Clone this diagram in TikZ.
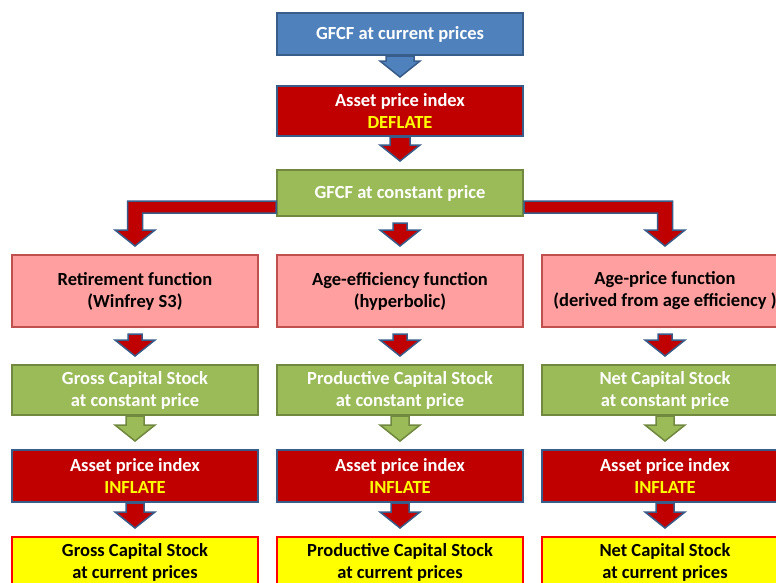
\documentclass[tikz,border=0pt]{standalone}
\usepackage{fontspec}
\setmainfont{Carlito}
\usetikzlibrary{calc}
\definecolor{bluef}{HTML}{4F81BD}
\definecolor{blued}{HTML}{385D8A}
\definecolor{redf}{HTML}{C00000}
\definecolor{greenf}{HTML}{9BBB59}
\definecolor{greend}{HTML}{71893F}
\definecolor{pinkf}{HTML}{FF9F9F}
\definecolor{pinkd}{HTML}{C0504D}
\definecolor{yell}{HTML}{FFFF00}
% block arrow: style, from, to, gap below 'from', half shaft width
\newcommand*{\blk}[5]{\draw[#1]let\p1=(#2.south),\p2=(#3.north)in
  (\x1-#5,\y1-#4)--(\x1-#5,\y2+24pt)--(\x1-20pt,\y2+24pt)--(\x1,\y2+8pt)
  --(\x1+20pt,\y2+24pt)--(\x1+#5,\y2+24pt)--(\x1+#5,\y1-#4)--cycle;}

\begin{document}
\begin{tikzpicture}[x=1pt, y=-1pt,
    box/.style={minimum width=246pt, align=center, inner sep=0pt, line width=2pt,
      font=\bfseries\fontsize{18.5}{22}\selectfont},
    bluebox/.style={box, draw=blued, fill=bluef, text=white},
    redbox/.style={box, draw=blued, fill=redf, text=white},
    greenbox/.style={box, draw=greend, fill=greenf, text=white},
    pinkbox/.style={box, draw=pinkd, fill=pinkf, text=black},
    yellbox/.style={box, draw=red, fill=yell, text=black},
    bluearr/.style={draw=blued, fill=bluef, line width=1.5pt, line join=miter},
    redarr/.style={draw=blued, fill=redf, line width=1.5pt, line join=miter},
    greenarr/.style={draw=greend, fill=greenf, line width=1.5pt, line join=miter}]
  \clip(0,0)rectangle(776,582);
  \fill[white](0,0)rectangle(776,582);
  % top chain
  \node[bluebox, minimum height=42pt](cur)at(400,34){GFCF at current prices};
  \node[redbox, minimum height=50pt](dfl)at(400,111){Asset price index\\\textcolor{yell}{DEFLATE}};
  \node[greenbox, minimum height=46pt](con)at(400,193){GFCF at constant price};
  % functions
  \node[pinkbox, minimum height=72pt](ret)at(135,291){Retirement function\\(Winfrey S3)};
  \node[pinkbox, minimum height=72pt](eff)at(400,291){Age-efficiency function\\(hyperbolic)};
  \node[pinkbox, minimum height=72pt](prc)at(665,291){Age-price function\\(derived from age efficiency )};
  % stocks at constant price
  \node[greenbox, minimum height=50pt](gk)at(135,390){Gross Capital Stock\\at constant price};
  \node[greenbox, minimum height=50pt](pk)at(400,390){Productive Capital Stock\\at constant price};
  \node[greenbox, minimum height=50pt](nk)at(665,390){Net Capital Stock\\at constant price};
  % inflate
  \node[redbox, minimum height=52pt](ig)at(135,476){Asset price index\\\textcolor{yell}{INFLATE}};
  \node[redbox, minimum height=52pt](ip)at(400,476){Asset price index\\\textcolor{yell}{INFLATE}};
  \node[redbox, minimum height=52pt](in)at(665,476){Asset price index\\\textcolor{yell}{INFLATE}};
  % stocks at current prices
  \node[yellbox, minimum height=50pt](gc)at(135,562){Gross Capital Stock\\at current prices};
  \node[yellbox, minimum height=50pt](pc)at(400,562){Productive Capital Stock\\at current prices};
  \node[yellbox, minimum height=50pt](nc)at(665,562){Net Capital Stock\\at current prices};
  % arrows
  \blk{bluearr}{cur}{dfl}{0pt}{14pt}
  \blk{redarr}{dfl}{con}{0pt}{10pt}
  \blk{redarr}{con}{eff}{6pt}{7pt}
  \draw[redarr]let\p1=(con.west),\p2=(ret.north)in
    (\x1,\y2+53pt)--(\x2-7.5pt,\y2+53pt)--(\x2-7.5pt,\y2+24pt)--(\x2-20pt,\y2+24pt)
    --(\x2,\y2+8pt)--(\x2+20pt,\y2+24pt)--(\x2+7.5pt,\y2+24pt)--(\x2+7.5pt,\y2+41pt)
    --(\x1,\y2+41pt)--cycle;
  \draw[redarr]let\p1=(con.east),\p2=(prc.north)in
    (\x1,\y2+53pt)--(\x2+7.5pt,\y2+53pt)--(\x2+7.5pt,\y2+24pt)--(\x2+20pt,\y2+24pt)
    --(\x2,\y2+8pt)--(\x2-20pt,\y2+24pt)--(\x2-7.5pt,\y2+24pt)--(\x2-7.5pt,\y2+41pt)
    --(\x1,\y2+41pt)--cycle;
  \foreach \a/\b/\c/\d in {ret/gk/ig/gc, eff/pk/ip/pc, prc/nk/in/nc}{
    \blk{redarr}{\a}{\b}{6pt}{7pt}
    \blk{greenarr}{\b}{\c}{0pt}{9pt}
    \blk{redarr}{\c}{\d}{0pt}{9pt}
  }
\end{tikzpicture}
\end{document}
